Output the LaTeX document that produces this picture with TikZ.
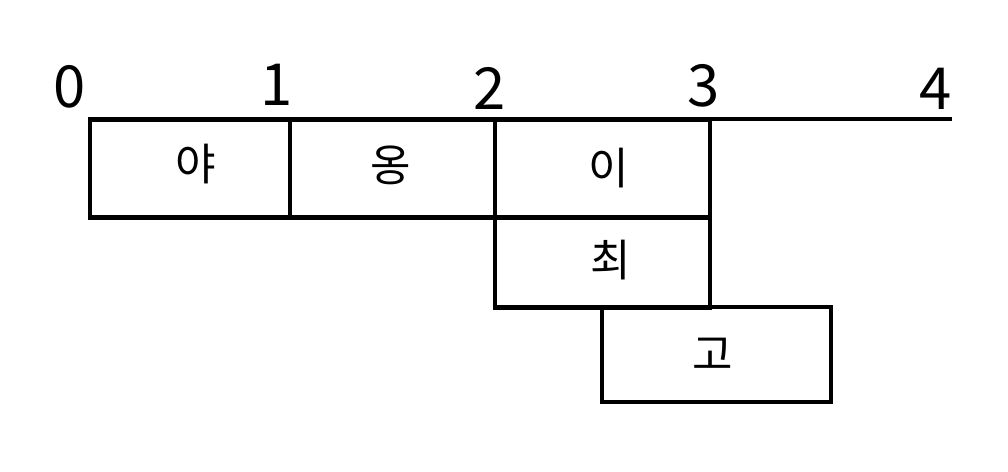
\documentclass[tikz,border=0pt]{standalone}
\usepackage{fontspec}
\newfontfamily\kr{Noto Sans CJK KR}
\begin{document}
\begin{tikzpicture}[x=1pt,y=-1pt,
  cell/.style={draw,line width=4.8pt,inner sep=0pt,font=\kr\fontsize{44}{44}\selectfont},
  digit/.style={font=\kr\fontsize{58}{58}\selectfont,inner sep=0pt}]
\useasboundingbox (0,0) rectangle (1008,471);
% boxes
\node[cell,minimum width=200pt,minimum height=98pt] (ya) at (190,168.5) {};
\node[cell,minimum width=205pt,minimum height=98pt] (ong) at (392.5,168.5) {};
\node[cell,minimum width=215pt,minimum height=98pt] (i) at (602.5,168.5) {};
\node[cell,minimum width=215pt,minimum height=90pt] (choi) at (602.5,262.5) {};
\node[cell,minimum width=229pt,minimum height=95pt] (go) at (716.5,354.5) {};
% texts inside the boxes
\node[cell,draw=none] (tya) at ([shift={(6,-4)}]ya.center) {야};
\node[cell,draw=none] (tong) at ([shift={(-2,-3)}]ong.center) {옹};
\node[cell,draw=none] (ti) at ([shift={(6,0)}]i.center) {이};
\node[cell,draw=none] (tchoi) at ([shift={(8,-2)}]choi.center) {최};
\node[cell,draw=none] (tgo) at ([shift={(-4,0)}]go.center) {고};
% axis
\coordinate (axL) at (90,119);
\coordinate (axR) at (952,119);
\draw[line width=4.8pt] (axL) -- (axR);
% labels
\node[digit] (d0) at (70,87) {0};
\node[digit] (d1) at (277,85) {1};
\node[digit] (d2) at (490,88) {2};
\node[digit] (d3) at (704,86) {3};
\node[digit] (d4) at (936,89) {4};
\end{tikzpicture}
\end{document}
